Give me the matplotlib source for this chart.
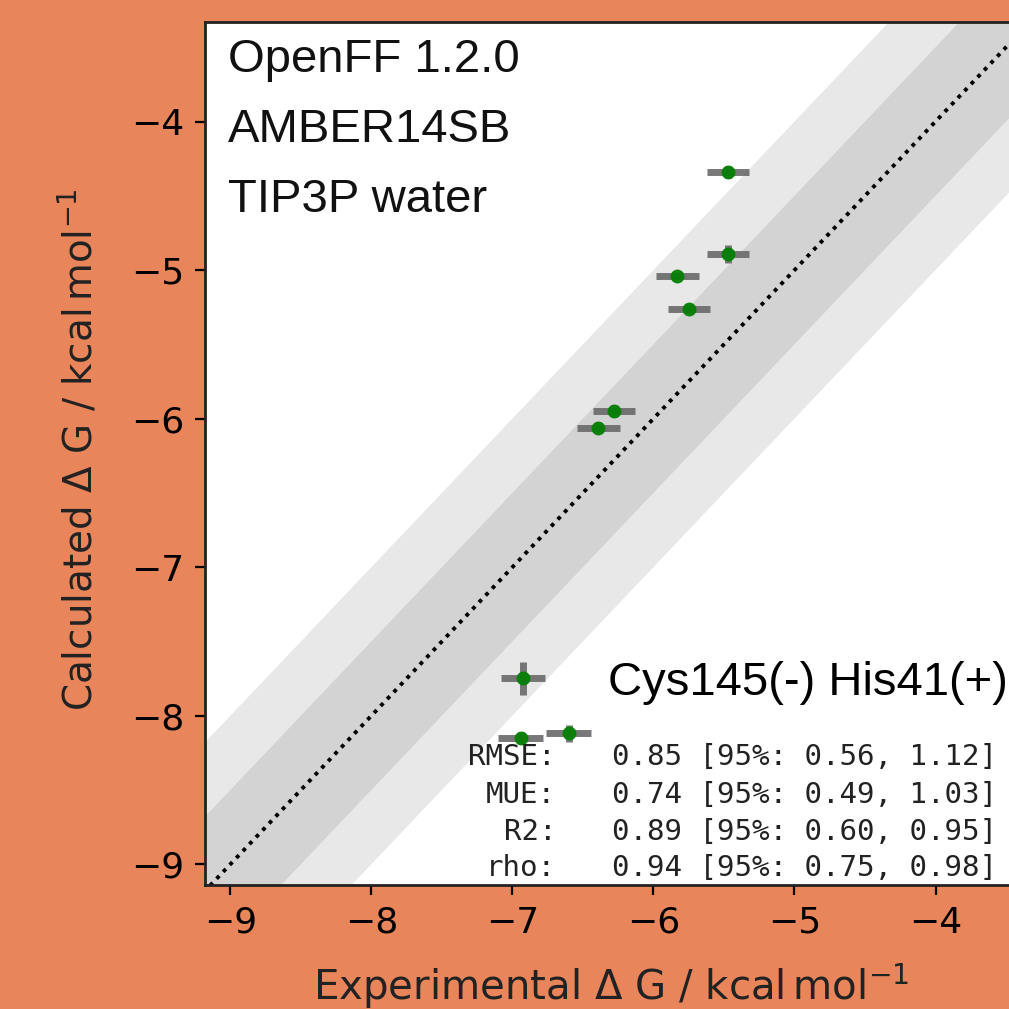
import matplotlib
matplotlib.use("Agg")
import matplotlib.pyplot as plt
from matplotlib.legend_handler import HandlerErrorbar
from matplotlib.container import ErrorbarContainer
import numpy as np

# ---- data ----
exp_dg = [-5.47, -5.47, -5.83, -5.75, -6.28, -6.39, -6.60, -6.94]
calc_dg = [-4.34, -4.89, -5.04, -5.26, -5.95, -6.06, -8.12, -8.15]
exp_err = [0.15, 0.15, 0.15, 0.15, 0.15, 0.15, 0.16, 0.16]
calc_err = [0.04, 0.06, 0.03, 0.03, 0.04, 0.04, 0.06, 0.04]
series_label = "Cys145(-) His41(+)"
info_lines = ["OpenFF 1.2.0", "AMBER14SB", "TIP3P water"]
stat_names = ["RMSE:", "MUE:", "R2:", "rho:"]
stat_values = ["0.85 [95%: 0.56, 1.12]", "0.74 [95%: 0.49, 1.03]",
               "0.89 [95%: 0.60, 0.95]", "0.94 [95%: 0.75, 0.98]"]
xlim = (-9.18, -3.33)
ylim = (-9.14, -3.33)
ticks = [-9, -8, -7, -6, -5, -4]

W = H = 1009
fig = plt.figure(figsize=(W / 100, H / 100), dpi=100)
fig.patch.set_facecolor("#E8855A")

ax = fig.add_axes([205 / W, (H - 885) / H, 825 / W, 863 / H])
ax.set_facecolor("white")

lo, hi = -10, -2
xs = np.array([lo, hi])
ax.fill_between(xs, xs - 1.0, xs + 1.0, color="grey", alpha=0.18, lw=0)
ax.fill_between(xs, xs - 0.5, xs + 0.5, color="grey", alpha=0.2, lw=0)
ax.plot(xs, xs, ls=(0, (1, 1.45)), color="black", lw=2.8)

eb = ax.errorbar(exp_dg, calc_dg, xerr=exp_err, yerr=calc_err, fmt="o",
                 color="green", ecolor="dimgray", elinewidth=5, markersize=9,
                 alpha=0.9, label=series_label, zorder=3)

ax.set_xlim(*xlim)
ax.set_ylim(*ylim)
ax.set_xticks(ticks)
ax.set_yticks(ticks)
ax.tick_params(labelsize=26, length=7, width=1.6, pad=8, colors="black")
for sp in ax.spines.values():
    sp.set_linewidth(2)
    sp.set_color("#222222")

ax.set_xlabel(r"Experimental $\Delta$ G / $\mathrm{kcal\,mol^{-1}}$", fontsize=29,
              color="#222222")
ax.set_ylabel(r"Calculated $\Delta$ G / $\mathrm{kcal\,mol^{-1}}$", fontsize=28,
              color="#222222")
ax.xaxis.label.set_verticalalignment("baseline")
ax.xaxis.set_label_coords((611 - 205) / 825, (885 - 1000) / 863, transform=ax.transAxes)
ax.yaxis.set_label_coords((99 - 205) / 825, 0.505, transform=ax.transAxes)

for i, line in enumerate(info_lines):
    fig.text(228 / W, (H - (60 + 70 * i)) / H, line, fontsize=34,
             family="Liberation Sans", va="center", ha="left", color="#111111")

leg = ax.legend(loc="center left", bbox_to_anchor=(457 / W, (H - 683) / H),
                bbox_transform=fig.transFigure, frameon=False, borderaxespad=0,
                prop={"family": "Liberation Sans", "size": 34},
                handler_map={ErrorbarContainer: HandlerErrorbar(xerr_size=0.47,
                                                                yerr_size=0.34)})

row_y = [757, 795, 832, 868]
for name, val, yy in zip(stat_names, stat_values, row_y):
    fig.text(556 / W, (H - yy) / H, name, fontsize=21, family="DejaVu Sans Mono",
             ha="right", va="center", color="#222222")
    fig.text(612 / W, (H - yy) / H, val, fontsize=21, family="DejaVu Sans Mono",
             ha="left", va="center", color="#222222")

fig.savefig("out.png", dpi=100, facecolor=fig.get_facecolor())
